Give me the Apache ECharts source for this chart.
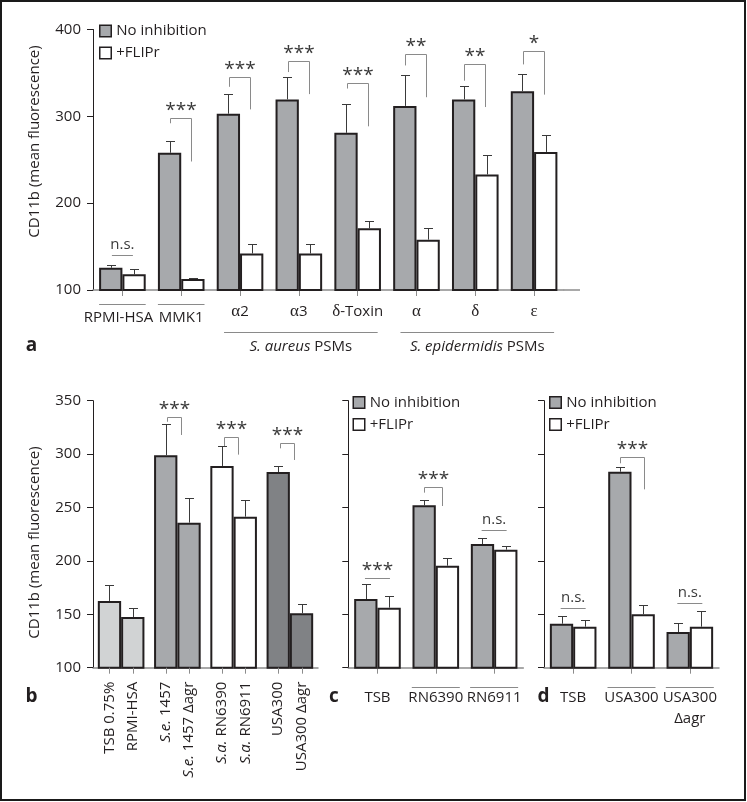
<!DOCTYPE html>
<html><head><meta charset="utf-8">
<script src="https://cdn.jsdelivr.net/npm/echarts@6/dist/echarts.min.js"></script>
<style>html,body{margin:0;padding:0;background:#fff}#c{width:747px;height:802px}</style>
</head><body><div id="c"></div><script>
// ---------- Panel a ----------
const catsA = ['RPMI-HSA','MMK1','α2','α3','δ-Toxin','α','δ','ε'];
const aNoInh = [125.6,258,303,319.5,281,312,319.5,329];
const aNoInhErr = [128.7,272,326,344.8,314,348,335,349];
const aFlipr = [118,112.6,142,142,171,158,233,259];
const aFliprErr = [123.8,114,152.5,152.5,179,171.6,255.5,278.5];
const aTicks = [100,200,300,400];
// [category, label, top, left-bottom, right-bottom]; 3 entries = plain line
const aSig = [[0,'n.s.',140],[1,'***',298,292,248],[2,'***',345,334,308],[3,'***',364,351,325.6],
  [4,'***',338.7,332,288.5],[5,'**',372,358.6,322],[6,'**',360.5,341,310.7],[7,'*',374.7,359.8,325]];
const aUnderlined = [0,1];
const aGroups = [['S. aureus',2,4],['S. epidermidis',5,7]];
// ---------- Panel b ----------
const catsB = ['TSB 0.75%','RPMI-HSA','S.e. 1457','S.e. 1457 Δagr','S.a. RN6390','S.a. RN6911','USA300','USA300 Δagr'];
const bValues = [162.5,147.5,298.9,235.8,288.9,241.4,283.2,151];
const bErr = [177.7,156.2,327.8,258.6,307.3,257,288.6,159.4];
const bSig = [[1,'***',334.5,330.3,317.9],[2,'***',315.7,307.6,299.5],[3,'***',310.7,305.4,294.5]];
const bcdTicks = [100,150,200,250,300,350];
// ---------- Panel c ----------
const catsC = ['TSB','RN6390','RN6911'];
const cNoInh = [164.3,252,215.8];
const cNoInhErr = [178,257,221.4];
const cFlipr = [156.2,195.5,210.5];
const cFliprErr = [167.4,202.4,214];
const cSig = [[0,'***',183.7],[1,'***',269.5,263.9,251.4],[2,'n.s.',228.9]];
const cUnderlined = [1,2];
// ---------- Panel d ----------
const catsD = ['TSB','USA300','USA300\nΔagr'];
const dNoInh = [141.2,283.5,133.4];
const dNoInhErr = [148.4,288.2,141.6];
const dFlipr = [138.4,150,138.4];
const dFliprErr = [144.4,158.4,153.4];
const dSig = [[0,'n.s.',155.6],[1,'***',297,291.4,267],[2,'n.s.',160.6]];
const dUnderlined = [1,2];

// ---------- styles ----------
const FONT = '"Open Sans", sans-serif';
const SERIF = '"Liberation Serif", "DejaVu Serif", serif';
const INK = '#231f20';
const AXIS_GRAY = '#8c8c8c';
const BRACKET = '#8a8a8a';
const ERRC = '#3a3a3a';
const GRAY = '#a7a9ac';
const B_COLORS = ['#d1d3d4','#a7a9ac','#ffffff','#808285'];
const BW = 23.3;
const STAR_SIZE = 19;

function errSeries(gi, rows) {
  return {
    type:'custom', xAxisIndex:gi, yAxisIndex:gi, z:3, silent:true, data: rows,
    renderItem:(params, api) => {
      const cat = api.value(0), side = api.value(3);
      const base = api.coord([cat, api.value(1)]);
      const top = api.coord([cat, api.value(2)]);
      const x = Math.round(base[0] + side*BW/2) + 0.5;
      const yt = Math.round(top[1]) + 0.5;
      return {type:'group', children:[
        {type:'line', shape:{x1:x, y1:base[1], x2:x, y2:yt}, style:{stroke:ERRC, lineWidth:1}},
        {type:'line', shape:{x1:x-4.5, y1:yt, x2:x+4.5, y2:yt}, style:{stroke:ERRC, lineWidth:1}}
      ]};
    }
  };
}
function pairRows(vals, errs, side) { return vals.map((v,i)=>[i, v, errs[i], side]); }

function sigSeries(gi, sig, L, R, hw) {
  return {
    type:'custom', xAxisIndex:gi, yAxisIndex:gi, z:4, silent:true,
    data: sig.map(s=>[s[0], s[2]]),
    renderItem:(params, api) => {
      const s = sig[params.dataIndex];
      const p = api.coord([s[0], s[2]]);
      const star = s[1].indexOf('*') >= 0;
      const yt = Math.round(p[1]) + 0.5;
      const txt = (x) => ({type:'text', x:x, y: star ? yt - 12.5 + 0.25*STAR_SIZE : yt - 11,
        style:{text:s[1], align:'center', verticalAlign:'middle', fontFamily:FONT, fontSize: star ? STAR_SIZE : 15, fill:'#3a3a3a'}});
      if (s.length === 3) {
        return {type:'group', children:[
          {type:'line', shape:{x1:p[0]-hw, y1:yt, x2:p[0]+hw, y2:yt}, style:{stroke:BRACKET, lineWidth:1}},
          txt(p[0])]};
      }
      const yl = api.coord([s[0], s[3]])[1], yr = api.coord([s[0], s[4]])[1];
      const xl = Math.round(p[0]+L)+0.5, xr = Math.round(p[0]+R)+0.5;
      return {type:'group', children:[
        {type:'polyline', shape:{points:[[xl,yl],[xl,yt],[xr,yt],[xr,yr]]}, style:{stroke:BRACKET, lineWidth:1, fill:null}},
        txt((xl+xr)/2)]};
    }
  };
}

function underlineSeries(gi, cats, dy, hw) {
  return {
    type:'custom', xAxisIndex:gi, yAxisIndex:gi, silent:true, z:4,
    data: cats.map(c=>[c, 100]),
    renderItem:(params, api) => {
      const p = api.coord([api.value(0), 100]);
      const y = Math.round(p[1] + dy) + 0.5;
      return {type:'line', shape:{x1:p[0]-hw, y1:y, x2:p[0]+hw, y2:y}, style:{stroke:BRACKET, lineWidth:1}};
    }
  };
}

function yAxis(gi, min, max, interval, ticks, showLabels) {
  return {gridIndex:gi, type:'value', min:min, max:max, interval:interval,
    axisLine:{show:true, lineStyle:{color:INK, width:1}},
    axisTick:{show:true, length:6, inside:false, lineStyle:{color:INK, width:1}},
    axisLabel:{show:showLabels, margin:12, color:INK, fontFamily:FONT, fontSize:15,
      formatter: v => ticks.includes(v) ? String(v) : ''},
    splitLine:{show:false}};
}

function xAxisCat(gi, cats, labelOpts) {
  return Object.assign({gridIndex:gi, type:'category', data:cats,
    axisLine:{show:true, onZero:false, lineStyle:{color:AXIS_GRAY, width:1.5}},
    axisTick:{show:true, alignWithLabel:true, length:6, lineStyle:{color:AXIS_GRAY, width:1}},
    splitLine:{show:false}}, labelOpts);
}

const legendBase = {orient:'vertical', icon:'rect', itemWidth:11.5, itemHeight:11.5, itemGap:7, padding:0,
  selectedMode:false, data:['No inhibition','+FLIPr'],
  textStyle:{fontFamily:FONT, fontSize:15, color:INK},
  itemStyle:{borderColor:INK, borderWidth:1.5}};

const chart = echarts.init(document.getElementById('c'), null, {renderer:'canvas'});
const option = {
  animation:false,
  backgroundColor:'#fff',
  grid:[
    {left:93, top:29.5, width:470.5, height:260.5, containLabel:false, outerBoundsMode:'none'},
    {left:93, top:400.7, width:225, height:267, containLabel:false, outerBoundsMode:'none'},
    {left:348.3, top:400.7, width:175, height:267, containLabel:false, outerBoundsMode:'none'},
    {left:544, top:400.7, width:175, height:267, containLabel:false, outerBoundsMode:'none'}
  ],
  legend:[
    Object.assign({}, legendBase, {left:99, top:23.5}),
    Object.assign({}, legendBase, {left:352.5, top:395}),
    Object.assign({}, legendBase, {left:549, top:395})
  ],
  xAxis:[
    xAxisCat(0, catsA, {axisLabel:{margin:12.7, color:INK, fontFamily:FONT, fontSize:15, lineHeight:18, interval:0,
      formatter: v => {
        const idx = catsA.indexOf(v);
        if (aUnderlined.includes(idx)) return (idx === 0 ? '{lo0|' : '{lo|') + v + '}';
        return v.replace(/([αδε])/g, '{g|$1}');
      },
      rich:{g:{fontFamily:SERIF, fontSize:17, lineHeight:18, color:INK},
            lo:{fontFamily:FONT, fontSize:15, lineHeight:30, color:INK},
            lo0:{fontFamily:FONT, fontSize:15, lineHeight:30, color:INK, padding:[0,8,0,0]}}}}),
    Object.assign(xAxisCat(1, ['g1','g2','g3','g4'], {}), {axisLabel:{show:false}, axisTick:{show:false}}),
    xAxisCat(2, catsC, {axisLabel:{margin:20, color:INK, fontFamily:FONT, fontSize:15, lineHeight:21, interval:0}}),
    xAxisCat(3, catsD, {axisLabel:{margin:20, color:INK, fontFamily:FONT, fontSize:15, lineHeight:21, interval:0}})
  ],
  yAxis:[
    yAxis(0, 100, 400, 100, aTicks, true),
    yAxis(1, 100, 350, 50, bcdTicks, true),
    yAxis(2, 100, 350, 50, bcdTicks, false),
    yAxis(3, 100, 350, 50, bcdTicks, false)
  ],
  series:[
    // panel a
    {type:'bar', name:'No inhibition', xAxisIndex:0, yAxisIndex:0, data:aNoInh, barWidth:BW, barGap:'0%',
      itemStyle:{color:GRAY, borderColor:INK, borderWidth:2}},
    {type:'bar', name:'+FLIPr', xAxisIndex:0, yAxisIndex:0, data:aFlipr, barWidth:BW, barGap:'0%',
      itemStyle:{color:'#ffffff', borderColor:INK, borderWidth:2}},
    errSeries(0, pairRows(aNoInh, aNoInhErr, -1)),
    errSeries(0, pairRows(aFlipr, aFliprErr, 1)),
    sigSeries(0, aSig, -11, 10, 10.5),
    underlineSeries(0, aUnderlined, 14, 23.3),
    {type:'custom', xAxisIndex:0, yAxisIndex:0, silent:true, z:4,
      data: aGroups.map(g=>[g[1], 100]),
      renderItem:(params, api) => {
        const g = aGroups[params.dataIndex];
        const p1 = api.coord([g[1], 100]), p2 = api.coord([g[2], 100]);
        const x1 = p1[0]-16, x2 = p2[0]+20, y = Math.round(p1[1]+41.5)+0.5;
        return {type:'group', children:[
          {type:'line', shape:{x1:x1, y1:y, x2:x2, y2:y}, style:{stroke:BRACKET, lineWidth:1}},
          {type:'text', x:(x1+x2)/2, y:p1[1]+56.5, style:{text:'{i|' + g[0] + '} PSMs', align:'center', verticalAlign:'middle',
            fontFamily:FONT, fontSize:15, fill:INK,
            rich:{i:{fontStyle:'italic', fontFamily:FONT, fontSize:15, fill:INK}}}}
        ]};
      }},
    // panel b
    {type:'bar', name:'b-first', xAxisIndex:1, yAxisIndex:1, barWidth:BW, barGap:'0%',
      data:[0,1,2,3].map(g=>({value:bValues[2*g], itemStyle:{color:B_COLORS[g]}})),
      itemStyle:{borderColor:INK, borderWidth:2}},
    {type:'bar', name:'b-second', xAxisIndex:1, yAxisIndex:1, barWidth:BW, barGap:'0%',
      data:[0,1,2,3].map(g=>({value:bValues[2*g+1], itemStyle:{color:B_COLORS[g]}})),
      itemStyle:{borderColor:INK, borderWidth:2}},
    errSeries(1, bValues.map((v,i)=>[Math.floor(i/2), v, bErr[i], i%2 ? 1 : -1])),
    sigSeries(1, bSig, -10, 4, 12),
    {type:'custom', xAxisIndex:1, yAxisIndex:1, silent:true, z:4,
      data: catsB.map((c,i)=>[Math.floor(i/2), 100, i%2 ? 1 : -1]),
      renderItem:(params, api) => {
        const p = api.coord([api.value(0), 100]);
        const x = p[0] + api.value(2)*BW/2;
        const xr = Math.round(x) + 0.5;
        const label = catsB[params.dataIndex].replace(/^(S\.[ea]\.)/, '{i|$1}');
        return {type:'group', children:[
          {type:'line', shape:{x1:xr, y1:p[1], x2:xr, y2:p[1]+6}, style:{stroke:AXIS_GRAY, lineWidth:1}},
          {type:'text', x:x, y:p[1]+14, rotation:Math.PI/2,
            style:{text:label, align:'right', verticalAlign:'middle', fontFamily:FONT, fontSize:15, fill:INK,
              rich:{i:{fontStyle:'italic', fontFamily:FONT, fontSize:15, fill:INK}}}}
        ]};
      }},
    // panel c
    {type:'bar', name:'No inhibition', xAxisIndex:2, yAxisIndex:2, data:cNoInh, barWidth:BW, barGap:'0%',
      itemStyle:{color:GRAY, borderColor:INK, borderWidth:2}},
    {type:'bar', name:'+FLIPr', xAxisIndex:2, yAxisIndex:2, data:cFlipr, barWidth:BW, barGap:'0%',
      itemStyle:{color:'#ffffff', borderColor:INK, borderWidth:2}},
    errSeries(2, pairRows(cNoInh, cNoInhErr, -1)),
    errSeries(2, pairRows(cFlipr, cFliprErr, 1)),
    sigSeries(2, cSig, -12, 6.6, 12.5),
    underlineSeries(2, cUnderlined, 19, 24),
    // panel d
    {type:'bar', name:'No inhibition', xAxisIndex:3, yAxisIndex:3, data:dNoInh, barWidth:BW, barGap:'0%',
      itemStyle:{color:GRAY, borderColor:INK, borderWidth:2}},
    {type:'bar', name:'+FLIPr', xAxisIndex:3, yAxisIndex:3, data:dFlipr, barWidth:BW, barGap:'0%',
      itemStyle:{color:'#ffffff', borderColor:INK, borderWidth:2}},
    errSeries(3, pairRows(dNoInh, dNoInhErr, -1)),
    errSeries(3, pairRows(dFlipr, dFliprErr, 1)),
    sigSeries(3, dSig, -12, 12, 12.5),
    underlineSeries(3, dUnderlined, 19, 24)
  ],
  graphic:[
    {type:'rect', shape:{x:1, y:1, width:744, height:799}, style:{fill:null, stroke:'#1a1a1a', lineWidth:2}, silent:true},
    {type:'line', shape:{x1:563.5, y1:290, x2:580, y2:290}, style:{stroke:AXIS_GRAY, lineWidth:1.5}, silent:true},
    {type:'text', x:35, y:141.5, rotation:Math.PI/2, style:{text:'CD11b (mean fluorescence)', align:'center', verticalAlign:'middle', fontFamily:FONT, fontSize:15, fill:INK}, silent:true},
    {type:'text', x:35, y:542.5, rotation:Math.PI/2, style:{text:'CD11b (mean fluorescence)', align:'center', verticalAlign:'middle', fontFamily:FONT, fontSize:15, fill:INK}, silent:true},
    {type:'text', x:31.5, y:346, style:{text:'a', align:'center', verticalAlign:'middle', fontFamily:FONT, fontWeight:'bold', fontSize:19, fill:INK}, silent:true},
    {type:'text', x:31.5, y:697, style:{text:'b', align:'center', verticalAlign:'middle', fontFamily:FONT, fontWeight:'bold', fontSize:19, fill:INK}, silent:true},
    {type:'text', x:334, y:697, style:{text:'c', align:'center', verticalAlign:'middle', fontFamily:FONT, fontWeight:'bold', fontSize:19, fill:INK}, silent:true},
    {type:'text', x:543.5, y:697, style:{text:'d', align:'center', verticalAlign:'middle', fontFamily:FONT, fontWeight:'bold', fontSize:19, fill:INK}, silent:true}
  ]
};
chart.setOption(option);
</script></body></html>
